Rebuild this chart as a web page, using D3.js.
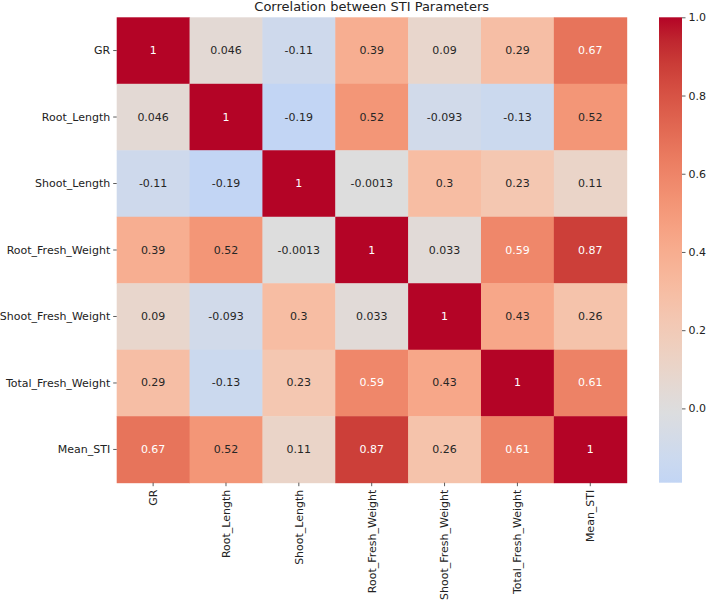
<!DOCTYPE html>
<html>
<head>
<meta charset="utf-8">
<script src="https://cdn.jsdelivr.net/npm/d3@7"></script>
<style>
  body { margin: 0; background: #fff; }
  text { font-family: "DejaVu Sans", sans-serif; }
</style>
</head>
<body>
<div id="chart"></div>
<script>
// variables (rows and columns)
var labels = ["GR", "Root_Length", "Shoot_Length", "Root_Fresh_Weight", "Shoot_Fresh_Weight", "Total_Fresh_Weight", "Mean_STI"]
// correlation matrix, row by row
var row_GR = [1, 0.046, -0.11, 0.39, 0.09, 0.29, 0.67]
var row_RL = [0.046, 1, -0.19, 0.52, -0.093, -0.13, 0.52]
var row_SL = [-0.11, -0.19, 1, -0.0013, 0.3, 0.23, 0.11]
var row_RFW = [0.39, 0.52, -0.0013, 1, 0.033, 0.59, 0.87]
var row_SFW = [0.09, -0.093, 0.3, 0.033, 1, 0.43, 0.26]
var row_TFW = [0.29, -0.13, 0.23, 0.59, 0.43, 1, 0.61]
var row_MS = [0.67, 0.52, 0.11, 0.87, 0.26, 0.61, 1]
var matrix = [row_GR, row_RL, row_SL, row_RFW, row_SFW, row_TFW, row_MS]
var cbarTicks = [0.0, 0.2, 0.4, 0.6, 0.8, 1.0]

// coolwarm colour stops
var cwStops = [[59,76,192],[68,90,204],[77,104,215],[87,117,225],[98,130,234],[108,142,241],[119,154,247],[130,165,251],[141,176,254],[152,185,255],[163,194,255],[174,201,253],[184,208,249],[194,213,244],[204,217,238],[213,219,230],[221,221,221],[229,216,209],[236,211,197],[241,204,185],[245,196,173],[247,187,160],[247,177,148],[247,166,135],[244,154,123],[241,141,111],[236,127,99],[229,112,88],[222,96,77],[213,80,66],[203,62,56],[192,40,47],[180,4,38]]
var coolwarm = d3.scaleLinear()
  .domain(cwStops.map((d, i) => i / (cwStops.length - 1)))
  .range(cwStops.map(c => d3.rgb(c[0], c[1], c[2])))
  .interpolate(d3.interpolateRgb)
  .clamp(true)

var vmin = d3.min(matrix, r => d3.min(r)), vmax = 1
// centered at 0 like seaborn center=0
var color = v => coolwarm((v + 1) / 2)

function textColor(c) {
  var rgb = d3.rgb(c)
  var lin = x => { x = x / 255; return x <= 0.03928 ? x / 12.92 : Math.pow((x + 0.055) / 1.055, 2.4) }
  var lum = 0.2126 * lin(rgb.r) + 0.7152 * lin(rgb.g) + 0.0722 * lin(rgb.b)
  return lum > 0.408 ? "#262626" : "#ffffff"
}

var width = 708, height = 603
var mLeft = 116.7, mTop = 17.3, hmW = 510, hmH = 465.4
var svg = d3.select("#chart").append("svg").attr("width", width).attr("height", height)

var x = d3.scaleBand().domain(labels).range([mLeft, mLeft + hmW])
var y = d3.scaleBand().domain(labels).range([mTop, mTop + hmH])

//cells
var cells = []
matrix.forEach((r, i) => r.forEach((v, j) => cells.push({ row: labels[i], col: labels[j], v: v })))

var g = svg.append("g")
g.selectAll("rect").data(cells).enter().append("rect")
  .attr("x", d => x(d.col))
  .attr("y", d => y(d.row))
  .attr("width", x.bandwidth() + 0.5)
  .attr("height", y.bandwidth() + 0.5)
  .attr("fill", d => color(d.v))

g.selectAll("text").data(cells).enter().append("text")
  .attr("x", d => x(d.col) + x.bandwidth() / 2)
  .attr("y", d => y(d.row) + y.bandwidth() / 2)
  .attr("text-anchor", "middle")
  .attr("dominant-baseline", "central")
  .attr("font-size", "11px")
  .attr("fill", d => textColor(color(d.v)))
  .text(d => String(d.v))

// axes
var axisFont = "11px"
var xAxis = svg.append("g").attr("transform", "translate(0," + (mTop + hmH) + ")")
  .call(d3.axisBottom(x).tickSize(3.5).tickPadding(3))
xAxis.select(".domain").remove()
xAxis.selectAll("line").attr("stroke", "#333").attr("stroke-width", 0.8)
xAxis.selectAll("text")
  .attr("font-size", axisFont).attr("fill", "#222")
  .attr("font-family", "DejaVu Sans, sans-serif")
  .attr("transform", "rotate(-90)")
  .attr("text-anchor", "end")
  .attr("dy", "0.35em")
  .attr("x", -7).attr("y", 0)

var yAxis = svg.append("g").attr("transform", "translate(" + mLeft + ",0)")
  .call(d3.axisLeft(y).tickSize(3.5).tickPadding(3))
yAxis.select(".domain").remove()
yAxis.selectAll("line").attr("stroke", "#333").attr("stroke-width", 0.8)
yAxis.selectAll("text").attr("font-size", axisFont).attr("fill", "#222")
  .attr("font-family", "DejaVu Sans, sans-serif")

// title
svg.append("text")
  .attr("x", mLeft + hmW / 2).attr("y", mTop - 6)
  .attr("text-anchor", "middle")
  .attr("font-size", "13px").attr("fill", "#222")
  .text("Correlation between STI Parameters")

// colorbar
var cbX = 659, cbW = 23
var cbY = d3.scaleLinear().domain([vmin, vmax]).range([mTop + hmH, mTop])
var defs = svg.append("defs")
var grad = defs.append("linearGradient").attr("id", "cbgrad")
  .attr("x1", 0).attr("y1", 1).attr("x2", 0).attr("y2", 0)
d3.range(0, 21).forEach(k => {
  var t = k / 20
  grad.append("stop").attr("offset", t).attr("stop-color", color(vmin + t * (vmax - vmin)))
})
svg.append("rect").attr("x", cbX).attr("y", mTop).attr("width", cbW).attr("height", hmH)
  .attr("fill", "url(#cbgrad)")

var cbAxis = svg.append("g").attr("transform", "translate(" + (cbX + cbW) + ",0)")
  .call(d3.axisRight(cbY).tickValues(cbarTicks).tickFormat(d3.format(".1f")).tickSize(3.5).tickPadding(3))
cbAxis.select(".domain").remove()
cbAxis.selectAll("line").attr("stroke", "#333").attr("stroke-width", 0.8)
cbAxis.selectAll("text").attr("font-size", axisFont).attr("fill", "#222")
  .attr("font-family", "DejaVu Sans, sans-serif")
</script>
</body>
</html>
